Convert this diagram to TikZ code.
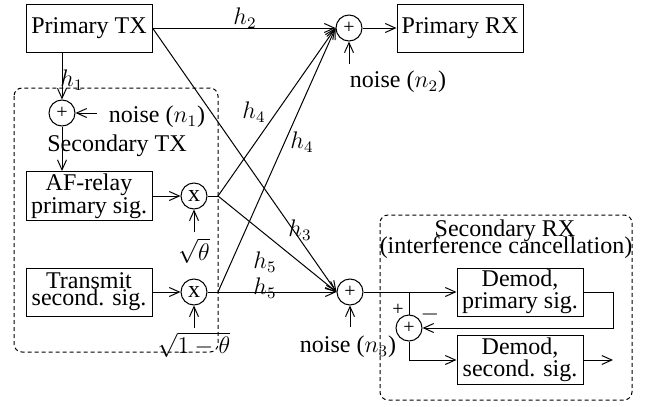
\documentclass[tikz,border=0pt]{standalone}
\usepackage[no-math]{fontspec}
\setmainfont{Liberation Serif}
\usepackage{tikz}
\usetikzlibrary{positioning,arrows.meta}

\begin{document}
\begin{tikzpicture}[x=0.5pt,y=-0.5pt,line width=0.5pt,>={Straight Barb[length=5pt,width=4.5pt]},font=\fontsize{12}{8.5}\selectfont]
  \tikzstyle{box}=[draw,align=center,minimum width=63pt,minimum height=24pt,inner sep=1pt]
  \tikzstyle{sum}=[draw,circle,minimum size=13pt,inner sep=0pt]
  \tikzstyle{group}=[draw,dash pattern=on 2pt off 1.5pt,rounded corners=4pt]
  \tikzstyle{lbl}=[inner sep=0pt]
  \tikzstyle{plus}=[font=\fontsize{10}{10}\selectfont]
  \useasboundingbox (0,0) rectangle (654,407);

  % dashed groups
  \draw[group] (14,88) rectangle (218,352);
  \draw[group] (380,215) rectangle (632,400);
  \node[lbl] (stx) at (117,146) {Secondary TX};
  \node[lbl] (srx) at (505,231) {Secondary RX};
  \node[lbl] (icx) at (506,248) {(interference cancellation)};

  % blocks
  \node[box] (ptx) at (89,28) {Primary TX};
  \node[box] (afr) at (89,196) {AF-relay\\primary sig.};
  \node[box] (tss) at (89,292) {Transmit\\second. sig.};
  \node[box] (prx) at (460,28) {Primary RX};
  \node[box] (dpr) at (520,292) {Demod,\\primary sig.};
  \node[box,minimum height=20pt] (dse) at (520,360) {Demod,\\second. sig.};

  % adders and multipliers
  \node[sum,plus] (add1) at (62,113) {+};
  \node[sum] (mul1) at (194,196) {x};
  \node[sum] (mul2) at (194,292) {x};
  \node[sum,plus] (sum2) at (349,28) {+};
  \node[sum,plus] (sum3) at (350,292) {+};
  \node[sum,plus] (add4) at (409,328) {+};

  % inputs
  \coordinate (nz1) at (97,113);
  \coordinate (nz2) at (349,64);
  \coordinate (nz3) at (350,327);
  \coordinate (st1) at (194,232);
  \coordinate (st2) at (194,328);
  \node[lbl] (tn1) at (157,117) {noise ($n_1$)};
  \node[lbl] (tn2) at (398,82) {noise ($n_2$)};
  \node[lbl] (tn3) at (348,347) {noise ($n_3$)};
  \node[lbl] (th1) at (194,251) {$\sqrt{\theta}$};
  \node[lbl] (th2) at (194,345) {$\sqrt{1-\theta}$};

  % junctions
  \coordinate (j1) at (218,196);
  \coordinate (j2) at (218,292);
  \coordinate (br) at (409,292);
  \coordinate (out) at (613,360);

  % secondary TX
  \draw[->] (ptx.south -| add1) -- (add1);
  \draw[->] (nz1) -- (add1);
  \draw[->] (add1) -- (afr.north -| add1);
  \draw[->] (afr) -- (mul1);
  \draw[->] (tss) -- (mul2);
  \draw[->] (st1) -- (mul1);
  \draw[->] (st2) -- (mul2);
  \draw (mul1) -- (j1);
  \draw (mul2) -- (j2);

  % channels
  \draw[->] (ptx.east) -- (sum2.west);
  \draw[->] (ptx.east) -- (sum3.west);
  \draw[->] (j1) -- (sum2.west);
  \draw[->] (j1) -- (sum3.west);
  \draw[->] (j2) -- (sum2.west);
  \draw[->] (j2) -- (sum3.west);
  \node[lbl] (lh1) at (72,80) {$h_1$};
  \node[lbl] (lh2) at (245,18) {$h_2$};
  \node[lbl] (lh3) at (300,230) {$h_3$};
  \node[lbl] (lh4a) at (254,112) {$h_4$};
  \node[lbl] (lh4b) at (302,142) {$h_4$};
  \node[lbl] (lh5a) at (265,262) {$h_5$};
  \node[lbl] (lh5b) at (265,288) {$h_5$};

  % receivers
  \draw[->] (nz2) -- (sum2);
  \draw[->] (nz3) -- (sum3);
  \draw[->] (sum2) -- (prx);
  \draw[->] (sum3) -- (dpr);
  \draw (br) -- (add4);
  \draw[->] (dpr.east) -- ++(30,0) |- (add4.east);
  \draw[->] (add4.south) |- (dse.west);
  \draw[->] (dse.east) -- (out);
  \node[lbl,plus] (pls) at (398,310) {+};
  \node[lbl] (mns) at (430,314) {$-$};
\end{tikzpicture}
\end{document}
